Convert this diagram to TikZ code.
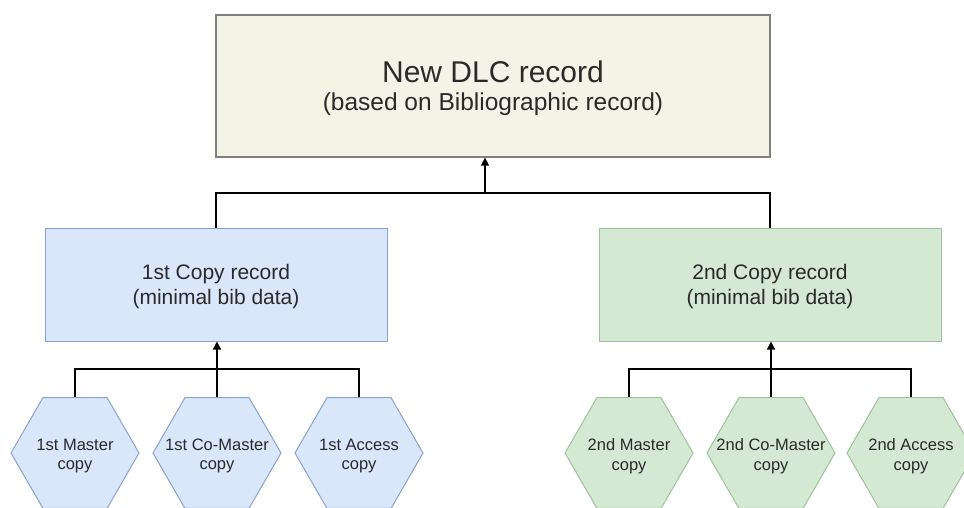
\documentclass[tikz,border=0pt]{standalone}
\usepackage{fontspec}
\setmainfont{Liberation Sans}
\usetikzlibrary{shapes.geometric,arrows.meta}
\definecolor{topfill}{HTML}{F4F4E6}
\definecolor{topdraw}{HTML}{7F7F7F}
\definecolor{bluefill}{HTML}{DAE7FA}
\definecolor{bluedraw}{HTML}{8AA3CC}
\definecolor{greenfill}{HTML}{D5E8D4}
\definecolor{greendraw}{HTML}{9CC39A}
\definecolor{txt}{HTML}{2A2A2A}
\tikzset{
  x=1pt, y=-1pt,
  topbox/.style={draw=topdraw, fill=topfill, line width=1.2pt, minimum width=554pt, minimum height=142pt, inner sep=0pt},
  toptext/.style={anchor=base, inner sep=0pt, text=txt},
  copybox/.style={line width=1pt, minimum width=342pt, minimum height=113pt, inner sep=0pt, align=center, font=\fontsize{21}{25}\selectfont, text=txt},
  bluebox/.style={copybox, draw=bluedraw, fill=bluefill},
  greenbox/.style={copybox, draw=greendraw, fill=greenfill},
  copytext/.style={align=center, font=\fontsize{21}{25}\selectfont, text=txt, inner sep=0pt},
  hexa/.style={regular polygon, regular polygon sides=6, minimum size=128pt, inner sep=0pt, line width=1pt},
  bluehex/.style={hexa, draw=bluedraw, fill=bluefill},
  greenhex/.style={hexa, draw=greendraw, fill=greenfill},
  hexlab/.style={align=center, font=\fontsize{16.5}{19.5}\selectfont, text=txt, inner sep=0pt},
  conn/.style={line width=1.2pt, draw=black},
  arr/.style={conn, -{Triangle[length=8pt,width=8pt]}}
}
\begin{document}
\begin{tikzpicture}
\clip (0,0) rectangle (964,508);
\fill[white] (0,0) rectangle (964,508);

\node[topbox] (dlc) at (493,86) {};
\node[toptext, font=\fontsize{30}{36}\selectfont] (dlct1) at (493,83) {New DLC record};
\node[toptext, font=\fontsize{24.5}{30}\selectfont] (dlct2) at (493,111) {(based on Bibliographic record)};

\node[bluebox] (c1) at (216,284.5) {};
\node[greenbox] (c2) at (770,284.5) {};
\node[copytext] (c1t) at (216,286.5) {1st Copy record\\(minimal bib data)};
\node[copytext] (c2t) at (770,286.5) {2nd Copy record\\(minimal bib data)};

\node[bluehex] (m1) at (75,453) {};
\node[bluehex] (cm1) at (217,453) {};
\node[bluehex] (a1) at (359,453) {};
\node[greenhex] (m2) at (629,453) {};
\node[greenhex] (cm2) at (771,453) {};
\node[greenhex] (a2) at (911,453) {};

\node[hexlab] (m1t) at (75,456) {1st Master\\copy};
\node[hexlab] (cm1t) at (217,456) {1st Co-Master\\copy};
\node[hexlab] (a1t) at (359,456) {1st Access\\copy};
\node[hexlab] (m2t) at (629,456) {2nd Master\\copy};
\node[hexlab] (cm2t) at (771,456) {2nd Co-Master\\copy};
\node[hexlab] (a2t) at (911,456) {2nd Access\\copy};

\coordinate (j0) at (485,193);
\coordinate (j1) at (217,369);
\coordinate (j2) at (771,369);

\draw[conn] (c1.north) |- (j0) -| (c2.north);
\draw[arr] (j0) -- (j0 |- dlc.south);

\draw[conn] (m1.north) |- (j1) -| (a1.north);
\draw[arr] (cm1.north) -- (cm1.north |- c1.south);
\draw[conn] (m2.north) |- (j2) -| (a2.north);
\draw[arr] (cm2.north) -- (cm2.north |- c2.south);
\end{tikzpicture}
\end{document}
